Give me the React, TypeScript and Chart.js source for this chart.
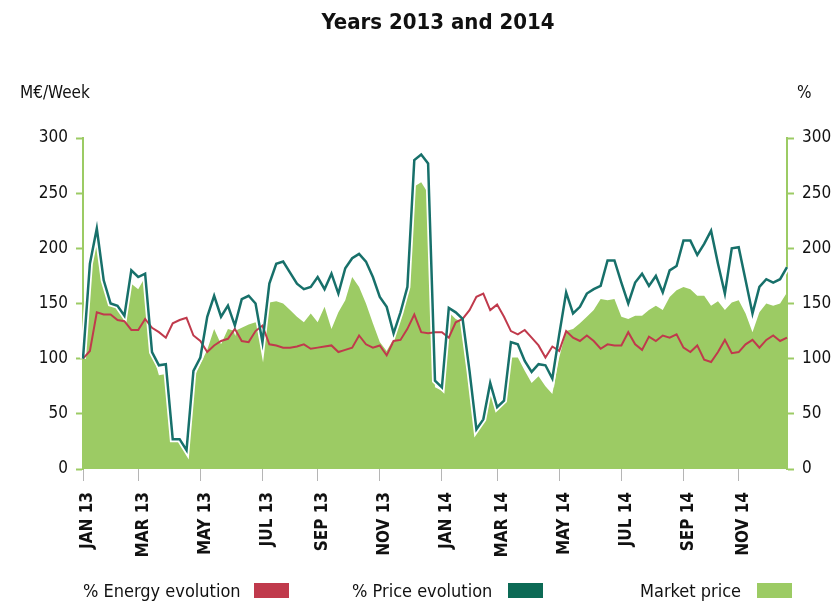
import React, { useEffect, useRef } from "react";
import { Chart, registerables } from "chart.js";

Chart.register(...registerables);

// ---- data (weekly, Jan 2013 – Dec 2014) ----
const monthTickLabels = ["JAN 13", "MAR 13", "MAY 13", "JUL 13", "SEP 13", "NOV 13", "JAN 14", "MAR 14", "MAY 14", "JUL 14", "SEP 14", "NOV 14"];
const monthTickWeeks = [0, 8, 17, 26, 34, 43, 52, 60, 69, 78, 87, 95];

const energyEvolution = [
  100, 107, 142, 140, 140, 135, 134, 126, 126, 136, 128, 124, 119, 132, 135, 137, 121, 116, 106, 112,
  116, 118, 127, 116, 115, 125, 130, 113, 112, 110, 110, 111, 113, 109, 110, 111, 112, 106, 108, 110,
  121, 113, 110, 112, 103, 116, 117, 127, 140, 124, 123, 124, 124, 119, 133, 136, 144, 156, 159, 144,
  149, 138, 125, 122, 126, 119, 112, 101, 111, 107, 125, 119, 116, 121, 116, 109, 113, 112, 112, 124,
  113, 108, 120, 116, 121, 119, 122, 110, 106, 112, 99, 97, 106, 117, 105, 106, 113, 117, 110, 117,
  121, 116, 119,
];

const priceEvolution = [
  100, 186, 218, 171, 150, 148, 139, 180, 174, 177, 106, 94, 95, 27, 27, 17, 89, 101, 138, 157,
  138, 148, 130, 154, 157, 150, 115, 168, 186, 188, 178, 168, 163, 165, 174, 163, 177, 159, 182, 191,
  195, 188, 174, 156, 147, 123, 142, 165, 280, 285, 277, 80, 74, 146, 142, 136, 89, 36, 45, 78,
  56, 62, 115, 113, 98, 88, 95, 94, 82, 122, 160, 141, 147, 159, 163, 166, 189, 189, 169, 150,
  169, 177, 166, 175, 160, 180, 184, 207, 207, 194, 204, 216, 186, 159, 200, 201, 171, 141, 165, 172,
  169, 172, 183,
];

const marketPrice = [
  100, 185, 227, 174, 153, 148, 139, 168, 163, 174, 107, 85, 86, 27, 27, 17, 82, 95, 108, 127,
  113, 127, 125, 128, 131, 133, 122, 151, 152, 150, 144, 138, 133, 141, 133, 147, 127, 142, 153, 174,
  165, 150, 132, 115, 107, 118, 138, 162, 256, 260, 250, 74, 71, 142, 136, 133, 83, 38, 47, 82,
  56, 62, 101, 101, 89, 78, 84, 75, 68, 101, 125, 127, 132, 138, 144, 154, 153, 154, 138, 136,
  139, 139, 144, 148, 144, 156, 162, 165, 163, 157, 157, 148, 152, 144, 151, 153, 141, 124, 142, 150,
  148, 150, 160,
];

const weekLabels = marketPrice.map((_, i) => (i < 52 ? `2013 W${i + 1}` : `2014 W${i - 51}`));

const yTickValues = [0, 50, 100, 150, 200, 250, 300];

const GREEN = "#9ccb64";
const TEAL = "#17706a";
const RED = "#c03a4c";
const TEAL_BOX = "#0c6a55";
const FONT = "'Liberation Sans Narrow', 'DejaVu Sans Condensed', 'Open Sans', sans-serif";

export default function App() {
  const canvasRef = useRef<HTMLCanvasElement | null>(null);

  useEffect(() => {
    document.body.style.margin = "0";
    const canvas = canvasRef.current;
    if (!canvas) return;

    const chart = new Chart(canvas, {
      type: "line",
      data: {
        labels: weekLabels,
        datasets: [
          {
            label: "% Price evolution",
            data: priceEvolution,
            borderColor: TEAL,
            borderWidth: 2.5,
            pointRadius: 0,
            fill: false,
            tension: 0,
            order: 0,
          },
          {
            label: "% Energy evolution",
            data: energyEvolution,
            borderColor: RED,
            borderWidth: 2,
            pointRadius: 0,
            fill: false,
            tension: 0,
            order: 1,
          },
          {
            label: "halo",
            data: priceEvolution,
            borderColor: "#ffffff",
            borderWidth: 6,
            pointRadius: 0,
            fill: false,
            tension: 0,
            order: 2,
          },
          {
            label: "Market price",
            data: marketPrice,
            borderColor: GREEN,
            borderWidth: 0,
            backgroundColor: GREEN,
            pointRadius: 0,
            fill: "origin",
            tension: 0,
            order: 3,
          },
        ],
      },
      options: {
        animation: false,
        responsive: false,
        maintainAspectRatio: false,
        layout: { padding: { top: 138, bottom: 32, left: 0, right: 0 } },
        plugins: {
          legend: { display: false },
          title: { display: false },
          tooltip: { enabled: false },
        },
        scales: {
          x: {
            type: "category",
            offset: false,
            border: { display: false },
            grid: {
              display: true,
              drawOnChartArea: false,
              drawTicks: true,
              tickLength: 12,
              tickColor: "#b5b5b5",
              tickWidth: 1,
            },
            ticks: {
              autoSkip: false,
              maxRotation: 90,
              minRotation: 90,
              padding: 11,
              labelOffset: 5,
              color: "#111111",
              font: { family: FONT, size: 17, weight: "bold" },
              callback: (_v: any, index: number) => {
                const k = monthTickWeeks.indexOf(index);
                return k >= 0 ? monthTickLabels[k] : null;
              },
            },
            afterFit: (scale: any) => {
              scale.height = 100;
            },
          },
          y: {
            position: "left",
            min: 0,
            max: 300,
            border: { display: true, color: GREEN, width: 2 },
            grid: {
              display: true,
              drawOnChartArea: false,
              drawTicks: true,
              tickLength: 7,
              tickColor: GREEN,
              tickWidth: 2,
            },
            afterBuildTicks: (scale: any) => {
              scale.ticks = yTickValues.map((v) => ({ value: v }));
            },
            ticks: {
              padding: 8,
              color: "#111111",
              font: { family: FONT, size: 17 },
            },
            afterFit: (scale: any) => {
              scale.width = 83;
            },
          },
          y1: {
            position: "right",
            min: 0,
            max: 300,
            border: { display: true, color: GREEN, width: 2 },
            grid: {
              display: true,
              drawOnChartArea: false,
              drawTicks: true,
              tickLength: 7,
              tickColor: GREEN,
              tickWidth: 2,
            },
            afterBuildTicks: (scale: any) => {
              scale.ticks = yTickValues.map((v) => ({ value: v }));
            },
            ticks: {
              padding: 8,
              color: "#111111",
              font: { family: FONT, size: 17 },
            },
            afterFit: (scale: any) => {
              scale.width = 47;
            },
          },
        },
      },
    } as any);

    return () => chart.destroy();
  }, []);

  const text: React.CSSProperties = {
    position: "absolute",
    fontFamily: FONT,
    color: "#111",
    whiteSpace: "nowrap",
    lineHeight: "1",
  };
  const box: React.CSSProperties = { position: "absolute", width: 35, height: 15 };

  return (
    <div style={{ position: "relative", width: 834, height: 601, background: "#fff", overflow: "hidden" }}>
      <canvas ref={canvasRef} width={834} height={601} style={{ position: "absolute", left: 0, top: 0 }} />
      <div style={{ ...text, left: 0, width: 876, top: 11, textAlign: "center", fontSize: 22, fontWeight: 700 }}>
        Years 2013 and 2014
      </div>
      <div style={{ ...text, left: 20, top: 84, fontSize: 17 }}>M€/Week</div>
      <div style={{ ...text, left: 797, top: 84, fontSize: 17 }}>%</div>

      <div style={{ ...text, left: 83, top: 582, fontSize: 18 }}>% Energy evolution</div>
      <div style={{ ...box, left: 254, top: 583, background: RED }} />
      <div style={{ ...text, left: 352, top: 582, fontSize: 18 }}>% Price evolution</div>
      <div style={{ ...box, left: 508, top: 583, background: TEAL_BOX }} />
      <div style={{ ...text, left: 640, top: 582, fontSize: 18 }}>Market price</div>
      <div style={{ ...box, left: 757, top: 583, background: GREEN }} />
    </div>
  );
}
